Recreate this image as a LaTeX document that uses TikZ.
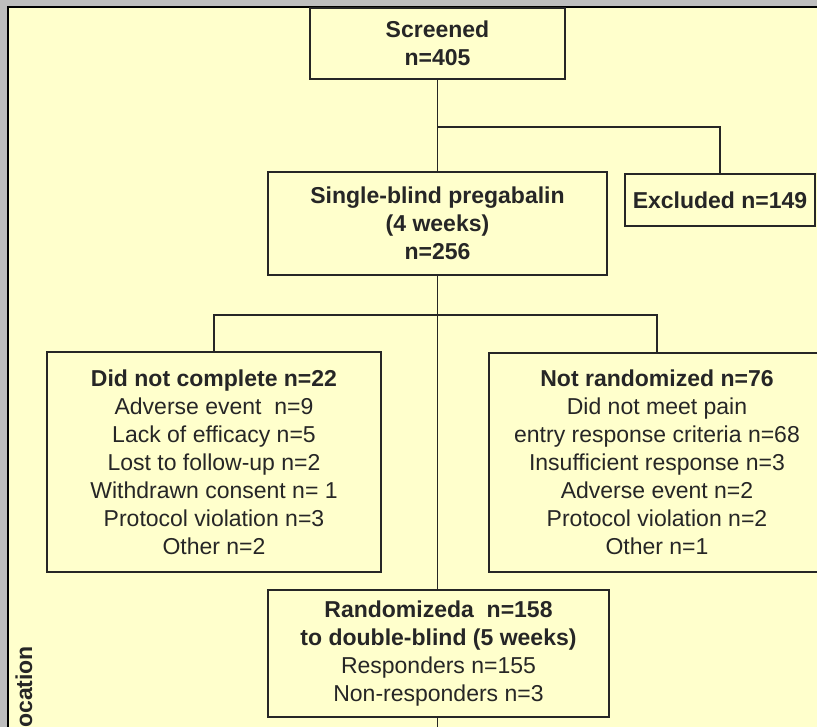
\documentclass[tikz,border=0pt]{standalone}
\usepackage{fontspec}
\setmainfont{Liberation Sans}
\definecolor{paper}{HTML}{FFFFCC}
\definecolor{rim}{HTML}{BEBEBE}
\definecolor{ink}{HTML}{262626}
\begin{document}
\begin{tikzpicture}[x=1pt,y=-1pt,
  box/.style={draw=ink, line width=1.4pt, fill=paper, align=center, inner sep=0pt,
    text=ink, font=\fontsize{23}{28}\selectfont},
  link/.style={draw=ink, line width=1.4pt}]
\useasboundingbox (0,0) rectangle (817,727);
% window rim and page
\fill[rim] (0,0) rectangle (817,727);
\fill[paper] (8,7) rectangle (817,727);
\draw[black, line width=2.5pt] (8,727) -- (8,7) -- (817,7);
\clip (0,0) rectangle (817,727);

% boxes
\node[box, minimum width=255, minimum height=71] (screen) at (437.5,43.5)
  {\textbf{Screened}\\\textbf{n=405}};
\node[box, minimum width=339, minimum height=103] (single) at (437.5,223.5)
  {\textbf{Single-blind pregabalin}\\\textbf{(4 weeks)}\\\textbf{n=256}};
\node[box, minimum width=190, minimum height=52] (excl) at (720,200)
  {\textbf{Excluded n=149}};
\node[box, minimum width=334, minimum height=220] (dnc) at (214,462)
  {\textbf{Did not complete n=22}\\Adverse event\ \ n=9\\Lack of efficacy n=5\\
   Lost to follow-up n=2\\Withdrawn consent n= 1\\Protocol violation n=3\\Other n=2};
\node[box, minimum width=336, minimum height=219] (nr) at (657,462.5)
  {\textbf{Not randomized n=76}\\Did not meet pain\\entry response criteria n=68\\
   Insufficient response n=3\\Adverse event n=2\\Protocol violation n=2\\Other n=1};
\node[box, minimum width=341, minimum height=127] (rand) at (438.5,653.5)
  {\textbf{Randomizeda\ \ n=158}\\\textbf{to double-blind (5 weeks)}\\
   Responders n=155\\Non-responders n=3};

% side label
\node[rotate=90, anchor=west, inner sep=0pt, text=ink,
  font=\bfseries\fontsize{23}{28}\selectfont] (alloc) at (24,728) {ocation};

% connectors
\coordinate (b1) at (437.5,127);
\coordinate (b2) at (437.5,315);
\coordinate (tail) at (437.5,727);
\draw[link] (screen.south) -- (single.north);
\draw[link] (b1) -| (excl.north);
\draw[link] (single.south) -- (single.south |- rand.north);
\draw[link] (dnc.north) |- (b2) -| (nr.north);
\draw[link] (single.south |- rand.south) -- (tail);
\end{tikzpicture}
\end{document}
